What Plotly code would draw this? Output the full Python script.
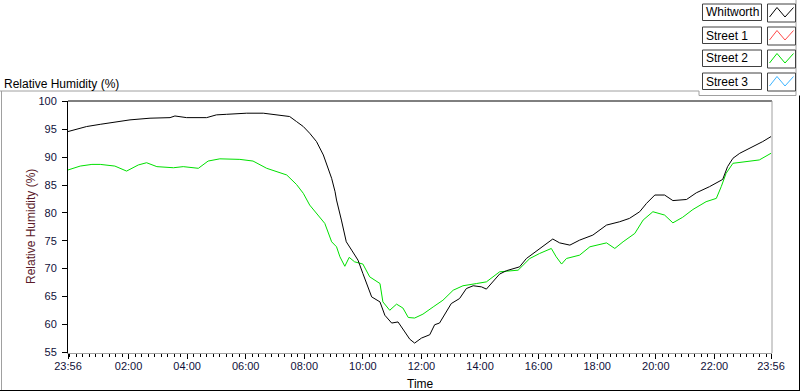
import plotly.graph_objects as go

# ---------------- data ----------------
series_names = ["Whitworth", "Street 1", "Street 2", "Street 3"]
series_colors = ["#000000", "#ff4a4a", "#00e000", "#3cb4ff"]

# minutes elapsed since 23:56 (start of the 24 h window)
whitworth_min = [0, 38, 66, 106, 127, 168, 209, 219, 243, 284, 304, 325, 366, 400, 434, 454,
                 468, 482, 495, 509, 523, 530, 540, 547, 550, 560, 570, 581, 594, 604, 615,
                 622, 639, 649, 663, 676, 690, 700, 710, 724, 741, 751, 761, 775, 785, 802,
                 816, 830, 847, 857, 867, 884, 898, 912, 925, 939, 966, 987, 993, 1007, 1028,
                 1048, 1075, 1103, 1130, 1150, 1171, 1185, 1202, 1222, 1239, 1267, 1287, 1314,
                 1341, 1351, 1362, 1376, 1403, 1423, 1440]
whitworth_rh = [94.6, 95.5, 95.9, 96.4, 96.7, 97.0, 97.1, 97.4, 97.1, 97.1, 97.6, 97.7, 97.9,
                97.9, 97.6, 97.3, 96.4, 95.5, 94.3, 92.8, 90.4, 88.6, 86.2, 83.8, 82.3, 78.7,
                74.8, 73.3, 71.5, 69.1, 66.7, 64.9, 64.0, 61.6, 60.2, 60.4, 58.6, 57.3, 56.6,
                57.5, 58.1, 59.9, 60.2, 62.2, 63.7, 64.6, 66.4, 66.9, 66.7, 66.3, 67.3, 69.0,
                69.6, 69.9, 70.3, 71.8, 73.6, 74.9, 75.3, 74.6, 74.2, 75.1, 76.0, 77.8, 78.4,
                79.0, 80.2, 81.7, 83.2, 83.2, 82.2, 82.4, 83.6, 84.7, 86.0, 88.3, 89.8, 90.7,
                91.9, 92.8, 93.7]

street1_min = []
street1_rh = []

street2_min = [0, 25, 49, 66, 96, 120, 144, 161, 182, 216, 236, 267, 287, 311, 352, 379, 407,
               448, 468, 482, 495, 512, 526, 540, 550, 557, 567, 576, 587, 604, 618, 639, 645,
               659, 673, 686, 697, 710, 727, 748, 768, 789, 809, 837, 857, 884, 905, 922, 946,
               966, 990, 1000, 1011, 1021, 1048, 1069, 1103, 1120, 1137, 1161, 1178, 1198,
               1222, 1239, 1259, 1280, 1307, 1328, 1338, 1348, 1362, 1389, 1416, 1440]
street2_rh = [87.7, 88.4, 88.7, 88.7, 88.4, 87.5, 88.6, 89.0, 88.3, 88.1, 88.3, 88.0, 89.3,
              89.7, 89.6, 89.3, 88.0, 86.8, 85.1, 83.5, 81.4, 79.6, 78.1, 74.8, 73.9, 72.1,
              70.4, 72.0, 71.2, 70.8, 68.5, 67.3, 64.0, 62.5, 63.6, 62.9, 61.2, 61.1, 61.8,
              63.1, 64.3, 66.1, 66.9, 67.3, 67.6, 69.4, 69.6, 69.7, 71.8, 72.7, 73.6, 72.1,
              70.8, 71.8, 72.4, 73.9, 74.6, 73.6, 74.8, 76.3, 78.7, 80.2, 79.6, 78.2, 79.2,
              80.6, 82.0, 82.6, 84.7, 87.1, 88.9, 89.2, 89.5, 90.7]

street3_min = []
street3_rh = []

x_tick_labels = ["23:56", "02:00", "04:00", "06:00", "08:00", "10:00", "12:00",
                 "14:00", "16:00", "18:00", "20:00", "22:00", "23:56"]
y_tick_vals = [55, 60, 65, 70, 75, 80, 85, 90, 95, 100]

# ---------------- helpers ----------------
W, H = 800, 392
L, R, T, B = 68, 772, 101, 353


def fx(x):
    return (x - L) / (R - L)


def fy(y):
    return (B - y) / (B - T)


def label_minutes(lbl, i, n):
    if i == 0:
        return 0
    if i == n - 1:
        return 1440
    h, m = map(int, lbl.split(":"))
    return (h * 60 + m + 4) % 1440  # offset from 23:56


x_tick_vals = [label_minutes(s, i, len(x_tick_labels)) for i, s in enumerate(x_tick_labels)]

minor_step = 120 / 9
minor_vals = []
v = x_tick_vals[1]
while v - minor_step > 0.5:
    v -= minor_step
    minor_vals.append(v)
for a, b in zip(x_tick_vals[1:-1], x_tick_vals[2:]):
    k = 1
    while a + k * minor_step < b - 0.5:
        minor_vals.append(a + k * minor_step)
        k += 1

# ---------------- figure ----------------
fig = go.Figure()
all_series = [(whitworth_min, whitworth_rh), (street1_min, street1_rh),
              (street2_min, street2_rh), (street3_min, street3_rh)]
# draw Street 2 under Whitworth
for idx in [2, 1, 3, 0]:
    xs, ys = all_series[idx]
    fig.add_trace(go.Scatter(x=xs, y=ys, mode="lines", name=series_names[idx],
                             line=dict(color=series_colors[idx], width=1),
                             showlegend=False, hoverinfo="skip"))

FONT = "Liberation Sans, Arial, sans-serif"

fig.update_layout(
    width=W, height=H,
    margin=dict(l=L, r=W - R, t=T, b=H - B, pad=0),
    paper_bgcolor="white", plot_bgcolor="white",
    font=dict(family=FONT, size=11, color="#10103a"),
    showlegend=False,
    xaxis=dict(range=[0, 1442], tickmode="array", tickvals=x_tick_vals, ticktext=x_tick_labels,
               ticks="outside", ticklen=5, tickwidth=1, tickcolor="#000000",
               showline=True, linecolor="#a0a0a0", linewidth=1,
               showgrid=False, zeroline=False, ticklabelstandoff=-2,
               tickfont=dict(family=FONT, size=11, color="#10103a"),
               minor=dict(tickmode="array", tickvals=minor_vals, ticks="outside",
                          ticklen=3, tickwidth=1, tickcolor="#000000", showgrid=False)),
    yaxis=dict(range=[54.82, 100.09], tickmode="array", tickvals=y_tick_vals,
               ticks="outside", ticklen=5, tickwidth=1, tickcolor="#000000",
               showline=True, linecolor="#000000", linewidth=1,
               showgrid=False, zeroline=False, ticklabelstandoff=3,
               tickfont=dict(family=FONT, size=11, color="#10103a")),
)

shapes = []


def line(x0, y0, x1, y1, color, width=1):
    shapes.append(dict(type="line", xref="paper", yref="paper",
                       x0=fx(x0), y0=fy(y0), x1=fx(x1), y1=fy(y1),
                       line=dict(color=color, width=width), layer="above"))


# plot area top / right borders
line(L, T, R, T, "#000000")
line(R, T, R, B, "#a0a0a0")
# outer panel frame
line(0, 91, 699, 91, "#a0a0a0")
line(699, 91, 699, 95.5, "#a0a0a0")
line(699, 95.5, 796, 95.5, "#a0a0a0")
line(796, 0, 796, 95.5, "#a0a0a0")
line(1.5, 91, 1.5, 390.5, "#a0a0a0")
line(0, 390.5, 799.5, 390.5, "#000000")
line(799.5, 95.5, 799.5, 391, "#000000")

annotations = []
# chart title
annotations.append(dict(text="Relative Humidity (%)", xref="paper", yref="paper",
                        x=fx(2), y=fy(84), xanchor="left", yanchor="middle", showarrow=False,
                        font=dict(family=FONT, size=12, color="#000000")))
# axis titles
annotations.append(dict(text="Time", xref="paper", yref="paper",
                        x=fx(420), y=fy(384), xanchor="center", yanchor="middle",
                        showarrow=False, font=dict(family=FONT, size=12, color="#000000")))
annotations.append(dict(text="Relative Humidity (%)", xref="paper", yref="paper",
                        x=fx(31), y=fy(227), xanchor="center", yanchor="middle",
                        textangle=-90, showarrow=False,
                        font=dict(family=FONT, size=12, color="#5a1a2a")))

# custom legend
for i, (name, col) in enumerate(zip(series_names, series_colors)):
    top = 4 + 23 * i
    shapes.append(dict(type="rect", xref="paper", yref="paper",
                       x0=fx(702.5), x1=fx(761.5), y0=fy(top), y1=fy(top + 16.5),
                       line=dict(color="#404040", width=1), fillcolor="white"))
    shapes.append(dict(type="rect", xref="paper", yref="paper",
                       x0=fx(767.5), x1=fx(795.5), y0=fy(top), y1=fy(top + 18),
                       line=dict(color="#404040", width=1), fillcolor="white"))
    pts = [(769.5, top + 13), (777, top + 3.5), (785, top + 13), (793.5, top + 3.5)]
    path = "M " + " L ".join(f"{fx(a):.5f},{fy(b):.5f}" for a, b in pts)
    shapes.append(dict(type="path", xref="paper", yref="paper", path=path,
                       line=dict(color=col, width=1)))
    annotations.append(dict(text=name, xref="paper", yref="paper",
                            x=fx(704), y=fy(top + 8.5), xanchor="left", yanchor="middle",
                            showarrow=False, font=dict(family=FONT, size=12, color="#000000")))

fig.update_layout(shapes=shapes, annotations=annotations)
fig.write_html("out.html", config={"displayModeBar": False},
               post_script="document.body.style.margin='0';document.body.style.overflow='hidden';")
